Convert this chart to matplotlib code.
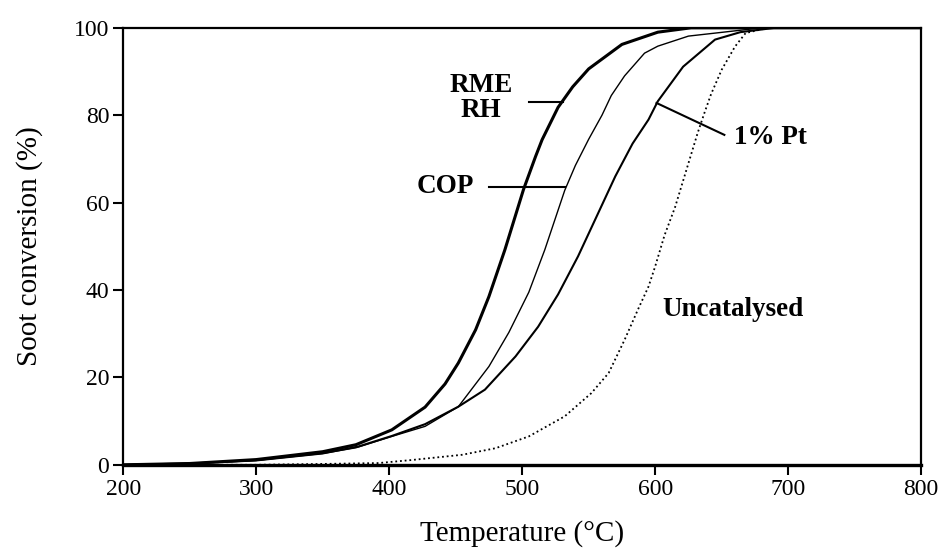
import matplotlib
matplotlib.use('Agg')
import matplotlib.pyplot as plt

plt.rcParams['font.family'] = ['Liberation Serif', 'DejaVu Serif']

# temperatura (C) e conversao de fuligem (%) de cada amostra
t_rme = [200, 250, 300, 350, 375, 402, 427, 442, 452, 465, 475, 487, 501, 510, 515, 527, 538, 550, 575, 602, 627, 800]
y_rme = [0, 0.3, 1.2, 3.0, 4.6, 8.0, 13.2, 18.5, 23.3, 30.9, 38.5, 49.2, 63.0, 70.5, 74.4, 81.8, 86.5, 90.6, 96.2, 99.0, 100, 100]

t_cop = [200, 250, 300, 350, 375, 402, 427, 452, 475, 490, 505, 517, 532, 540, 550, 560, 567, 577, 592, 602, 625, 660, 680, 800]
y_cop = [0, 0.3, 1.0, 2.6, 3.9, 6.5, 8.8, 13.3, 22.5, 30.3, 39.5, 49.2, 62.8, 68.5, 74.5, 80.0, 84.5, 89.0, 94.2, 95.8, 98.1, 99.3, 100, 100]

t_pt = [200, 250, 300, 350, 377, 402, 427, 452, 472, 495, 512, 527, 542, 557, 570, 583, 595, 602, 621, 645, 664, 690, 800]
y_pt = [0, 0.3, 1.0, 2.6, 4.2, 6.6, 9.3, 13.3, 17.2, 24.8, 31.6, 39.0, 47.7, 57.5, 66.0, 73.5, 79.0, 83.2, 91.1, 97.3, 99.0, 100, 100]

t_unc = [200, 300, 350, 392, 417, 455, 480, 505, 532, 552, 565, 577, 587, 595, 600, 607, 615, 620, 632, 637, 642, 650, 660, 668, 685, 800]
y_unc = [0, 0, 0.2, 0.4, 1.1, 2.3, 3.8, 6.5, 11.1, 16.4, 21.0, 28.6, 35.5, 40.8, 45.4, 52.5, 59.0, 64.0, 76.0, 80.5, 84.8, 90.4, 95.7, 98.8, 100, 100]

fig = plt.figure(figsize=(9.4, 5.56), dpi=100)
ax = fig.add_axes([0.131, 0.164, 0.849, 0.786])

ax.plot(t_rme, y_rme, color='black', lw=2.2)
ax.plot(t_cop, y_cop, color='black', lw=1.0)
ax.plot(t_pt, y_pt, color='black', lw=1.5)
ax.plot(t_unc, y_unc, color='black', lw=1.3, linestyle=(0, (1, 1.6)))

# rotulos com linhas indicadoras
ax.plot([505, 531], [83.1, 83.1], color='black', lw=1.5)
ax.plot([475, 532], [63.6, 63.6], color='black', lw=1.5)
ax.plot([601, 652], [82.8, 75.5], color='black', lw=1.5)

ax.text(469, 84, 'RME\nRH', ha='center', va='center', fontsize=19.5, fontweight='bold', linespacing=1.0)
ax.text(442, 63.6, 'COP', ha='center', va='center', fontsize=19.5, fontweight='bold')
ax.text(659.6, 74.8, '1% Pt', ha='left', va='center', fontsize=19.5, fontweight='bold')
ax.text(658.4, 35.5, 'Uncatalysed', ha='center', va='center', fontsize=19.5, fontweight='bold')

ax.set_xlim(200, 800)
ax.set_ylim(0, 100)
ax.set_xticks([200, 300, 400, 500, 600, 700, 800])
ax.set_yticks([0, 20, 40, 60, 80, 100])
ax.tick_params(direction='out', length=7, width=1.5, labelsize=17, pad=3)

for s in ax.spines.values():
    s.set_linewidth(1.6)
ax.spines['bottom'].set_linewidth(2.4)

ax.set_xlabel('Temperature (°C)', fontsize=21, labelpad=15)
ax.set_ylabel('Soot conversion (%)', fontsize=21, labelpad=22)

plt.savefig('out.png', dpi=100)
